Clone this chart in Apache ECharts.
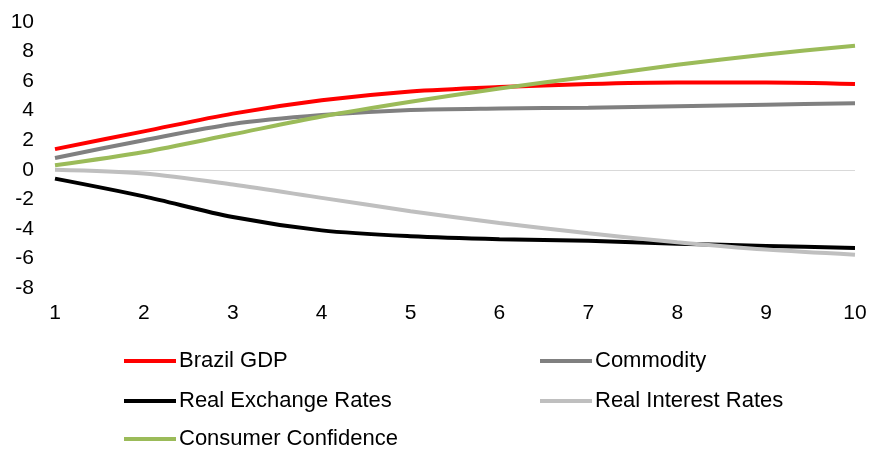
<!DOCTYPE html>
<html>
<head>
<meta charset="utf-8">
<script src="https://cdn.jsdelivr.net/npm/echarts@6/dist/echarts.min.js"></script>
<style>
  html, body { margin: 0; padding: 0; background: #fff; }
  #chart { width: 870px; height: 449px; }
</style>
</head>
<body>
<div id="chart"></div>
<script>
// horizon
var periods = ['1', '2', '3', '4', '5', '6', '7', '8', '9', '10'];

// responses
var brazilGdp = [1.4, 2.6, 3.8, 4.7, 5.3, 5.6, 5.8, 5.9, 5.9, 5.8];
var commodity = [0.8, 2.0, 3.1, 3.7, 4.05, 4.15, 4.2, 4.3, 4.4, 4.5];
var realExchange = [-0.6, -1.8, -3.2, -4.1, -4.5, -4.7, -4.8, -5.0, -5.15, -5.3];
var realInterest = [0, -0.25, -1.0, -1.9, -2.8, -3.6, -4.3, -4.9, -5.4, -5.75];
var consumerConf = [0.3, 1.2, 2.4, 3.6, 4.6, 5.5, 6.3, 7.1, 7.8, 8.4];

var names = ['Brazil GDP', 'Commodity', 'Real Exchange Rates', 'Real Interest Rates', 'Consumer Confidence'];
var colors = ['#FF0000', '#808080', '#000000', '#BFBFBF', '#9BBB59'];
var values = [brazilGdp, commodity, realExchange, realInterest, consumerConf];

var font = 'Liberation Sans, Arial, sans-serif';
var legendPos = [[124, 350], [540, 350], [124, 390], [540, 390], [124, 428]];

var myChart = echarts.init(document.getElementById('chart'));

var series = [];
var legends = [];
for (var i = 0; i < names.length; i++) {
    var s = {
        name: names[i],
        type: 'line',
        data: values[i],
        smooth: 0.3,
        symbol: 'none',
        lineStyle: { color: colors[i], width: 4 },
        itemStyle: { color: colors[i] },
        z: 3
    };
    if (i == 0) {
        s.markLine = {
            silent: true,
            symbol: 'none',
            label: { show: false },
            lineStyle: { color: '#D9D9D9', type: 'solid', width: 1 },
            data: [{ yAxis: 0 }],
            z: 1
        };
    }
    series.push(s);
    legends.push({
        data: [names[i]],
        left: legendPos[i][0],
        top: legendPos[i][1],
        icon: 'rect',
        itemWidth: 52,
        itemHeight: 4,
        itemGap: 0,
        padding: 0,
        textStyle: { fontFamily: font, fontSize: 22, color: '#000', padding: [0, 0, 0, -2] }
    });
}

var option = {
    animation: false,
    backgroundColor: '#fff',
    grid: { left: 55, right: 15, top: 22, bottom: 161 },
    legend: legends,
    xAxis: {
        type: 'category',
        data: periods,
        boundaryGap: false,
        axisLine: { show: false },
        axisTick: { show: false },
        axisLabel: { fontFamily: font, fontSize: 21, color: '#000', margin: 15 }
    },
    yAxis: {
        type: 'value',
        min: -8,
        max: 10,
        interval: 2,
        axisLine: { show: false },
        axisTick: { show: false },
        splitLine: { show: false },
        axisLabel: { fontFamily: font, fontSize: 21, color: '#000', margin: 21 }
    },
    series: series
};

myChart.setOption(option, true);
</script>
</body>
</html>
